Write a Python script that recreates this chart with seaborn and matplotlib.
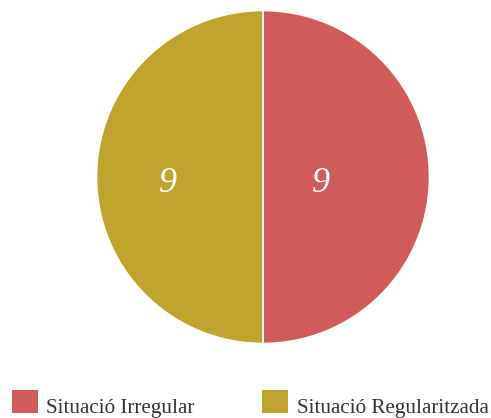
import matplotlib
matplotlib.use("Agg")
import matplotlib.pyplot as plt
import seaborn as sns
from matplotlib.patches import Patch, Rectangle
from matplotlib.legend_handler import HandlerPatch

categories = ["Situació Irregular", "Situació Regularitzada"]
values = [9, 9]
colors = ["#D15B5B", "#BEA42D"]

sns.set_theme(style="white")
plt.rcParams["font.family"] = ["Liberation Serif", "DejaVu Serif"]

fig = plt.figure(figsize=(4.91, 4.18), dpi=100)
W, H = 491, 418
cx, cy, r = 263, 177, 166.5
ax = fig.add_axes([(cx - r) / W, (H - cy - r) / H, 2 * r / W, 2 * r / H])

wedges, texts = ax.pie(values, colors=colors, startangle=90, counterclock=False,
                       labels=[str(v) for v in values], labeldistance=0.57,
                       wedgeprops=dict(edgecolor="white", linewidth=1.2),
                       textprops=dict(color="white", fontsize=26, fontstyle="italic",
                                      ha="center", va="center"))
# label placement as in the reference (asymmetric)
texts[0].set_position((0.35, -0.04))
texts[1].set_position((-0.57, -0.04))
for t in texts:
    t.set_ha("center")
    t.set_va("center")
ax.set_xlim(-1.0, 1.0)
ax.set_ylim(-1.0, 1.0)


def square(legend, orig_handle, xdescent, ydescent, width, height, fontsize):
    # square swatch sitting on the text baseline
    return Rectangle((-xdescent, 0), width, 16.6)


handles = [Patch(facecolor=c, edgecolor="none") for c in colors]
fig.legend(handles, categories, loc="lower left", bbox_to_anchor=(12 / W, 0),
           ncol=2, frameon=False, fontsize=15.2, handlelength=1.23, handleheight=1.0,
           handletextpad=0.4, columnspacing=3.2, borderaxespad=0, borderpad=0,
           labelcolor="#333333",
           handler_map={Patch: HandlerPatch(patch_func=square)})

fig.savefig("out.png", dpi=100)
